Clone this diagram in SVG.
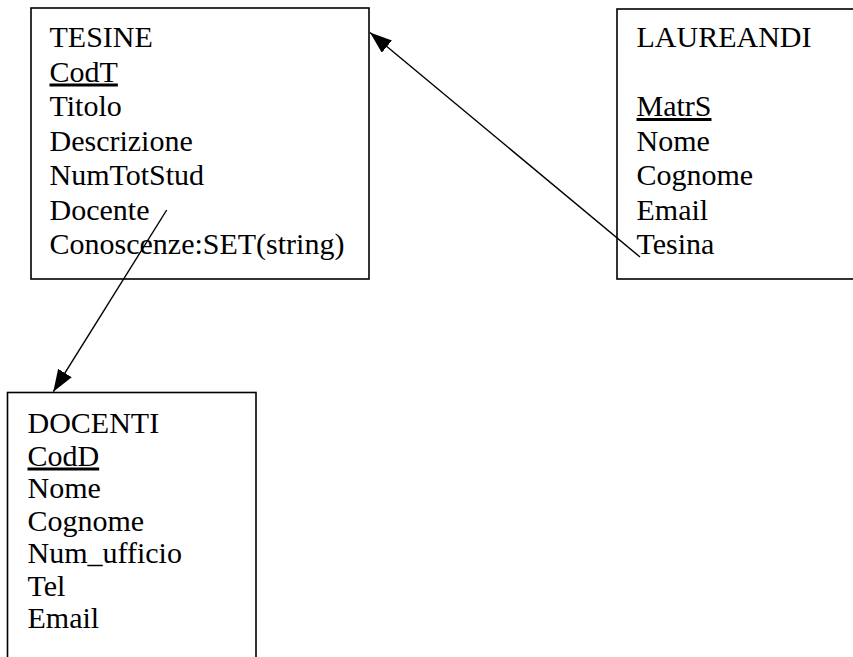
<svg xmlns="http://www.w3.org/2000/svg" width="853" height="657" viewBox="0 0 853 657">
<style>
.box{fill:#fff;stroke:#000;stroke-width:1.6}
text{font-family:"Liberation Serif","Times New Roman",serif;font-size:30px;fill:#000}
.u{text-decoration:underline}
.conn{stroke:#000;stroke-width:1.4;fill:none;marker-end:url(#ah)}
</style>
<defs>
<marker id="ah" markerUnits="userSpaceOnUse" markerWidth="23" markerHeight="17" refX="22" refY="8" orient="auto" viewBox="0 0 23 17">
<path d="M0,0 L22,8 L0,16 z" fill="#000"/>
</marker>
</defs>
<rect width="853" height="657" fill="#fff"/>
<g id="tesine">
<rect class="box" x="31" y="8" width="338" height="271"/>
<text x="49.5" y="47">TESINE</text>
<text x="49.5" y="81.5" class="u">CodT</text>
<text x="49.5" y="116">Titolo</text>
<text x="49.5" y="150.5">Descrizione</text>
<text x="49.5" y="185">NumTotStud</text>
<text x="49.5" y="219.5">Docente</text>
<text x="49.5" y="254">Conoscenze:SET(string)</text>
</g>
<g id="laureandi">
<rect class="box" x="617" y="9" width="250" height="270"/>
<text x="636.5" y="47">LAUREANDI</text>
<text x="636.5" y="116" class="u">MatrS</text>
<text x="636.5" y="150.5">Nome</text>
<text x="636.5" y="185">Cognome</text>
<text x="636.5" y="219.5">Email</text>
<text x="636.5" y="254">Tesina</text>
</g>
<g id="docenti">
<rect class="box" x="7.5" y="392.5" width="248.5" height="300"/>
<text x="27.5" y="433">DOCENTI</text>
<text x="27.5" y="465.5" class="u">CodD</text>
<text x="27.5" y="498">Nome</text>
<text x="27.5" y="530.5">Cognome</text>
<text x="27.5" y="563">Num_ufficio</text>
<text x="27.5" y="595.5">Tel</text>
<text x="27.5" y="628">Email</text>
</g>
<g id="connectors">
<line class="conn" x1="640" y1="257" x2="370" y2="32.5"/>
<line class="conn" x1="166.7" y1="210" x2="53.3" y2="391.7"/>
</g>
</svg>
